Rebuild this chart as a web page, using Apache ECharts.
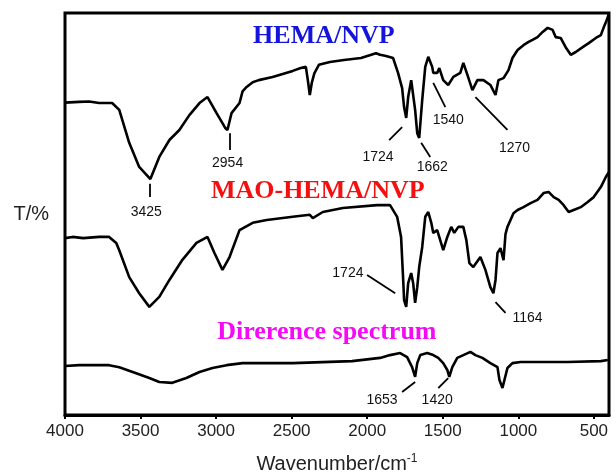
<!DOCTYPE html>
<html><head><meta charset="utf-8">
<script src="https://cdn.jsdelivr.net/npm/echarts@6/dist/echarts.min.js"></script>
<style>html,body{margin:0;padding:0;background:#fff}#c{width:616px;height:474px}</style>
</head><body><div id="c"></div>
<script>
// x: wavenumber (cm-1), y: relative transmittance (offset traces)
const hemaNvp = [[4000,77.7],[3907,77.9],[3841,78.0],[3774,77.6],[3688,77.6],[3641,75.9],[3575,67.7],[3509,61.7],[3435,58.7],[3376,64.2],[3309,68.4],[3243,70.9],[3177,74.6],[3110,77.6],[3057,79.1],[2997,75.1],[2958,72.6],[2940,71.4],[2925,70.9],[2898,75.1],[2845,77.6],[2825,80.5],[2798,81.6],[2758,82.8],[2718,83.3],[2626,84.1],[2493,85.6],[2440,86.3],[2406,86.6],[2393,83.3],[2380,79.6],[2367,82.6],[2350,85.0],[2320,87.1],[2247,87.8],[2154,88.3],[2041,88.8],[1942,90.0],[1915,89.6],[1875,89.3],[1829,88.8],[1796,85.1],[1769,81.3],[1756,76.6],[1742,73.9],[1729,79.1],[1709,83.3],[1696,83.6],[1683,75.9],[1669,70.1],[1656,68.9],[1636,78.4],[1616,86.6],[1596,89.1],[1570,86.6],[1563,85.1],[1537,85.1],[1523,86.3],[1497,83.3],[1464,82.1],[1430,84.1],[1384,85.1],[1364,87.6],[1337,84.6],[1304,80.8],[1271,83.3],[1231,83.3],[1185,82.1],[1151,79.6],[1132,83.3],[1098,83.8],[1065,85.8],[1039,88.8],[1005,90.8],[966,92.0],[932,92.8],[906,93.3],[873,94.0],[839,95.3],[806,96.3],[773,95.8],[753,94.0],[720,93.8],[687,91.5],[653,89.6],[620,90.3],[574,91.5],[534,92.5],[487,93.8],[454,94.5],[434,96.5],[414,98.3],[401,99.75]];
const maoHemaNvp = [[4000,44.0],[3950,44.3],[3880,44.0],[3774,44.3],[3708,44.3],[3661,42.8],[3641,41.0],[3575,34.3],[3509,30.3],[3442,26.9],[3376,29.4],[3309,33.6],[3223,38.6],[3130,42.8],[3057,44.3],[3011,40.3],[2958,36.1],[2911,39.3],[2845,46.0],[2758,47.8],[2665,48.5],[2493,49.3],[2380,49.8],[2360,49.0],[2294,50.5],[2161,51.5],[1935,52.2],[1849,52.2],[1802,49.3],[1776,44.3],[1762,33.6],[1756,28.6],[1742,26.9],[1729,32.8],[1709,35.3],[1696,32.8],[1683,27.9],[1669,31.8],[1656,36.8],[1636,41.8],[1616,49.3],[1596,50.5],[1576,47.8],[1563,45.3],[1537,46.0],[1517,43.5],[1497,41.0],[1470,44.3],[1444,46.8],[1424,45.3],[1397,46.8],[1364,46.8],[1344,43.5],[1324,37.8],[1298,36.8],[1251,39.3],[1218,36.1],[1185,31.8],[1165,30.3],[1151,33.6],[1138,40.3],[1118,41.5],[1098,38.5],[1085,45.0],[1072,46.8],[1032,50.2],[1005,51.0],[966,51.7],[919,52.7],[873,53.5],[833,55.2],[800,55.5],[766,54.2],[733,53.5],[700,52.2],[667,50.5],[634,51.0],[587,51.7],[541,53.0],[501,54.2],[454,56.7],[421,59.2],[401,60.4]];
const difference = [[4000,12.2],[3907,12.4],[3821,12.4],[3708,12.4],[3641,11.9],[3529,10.4],[3442,9.2],[3376,8.2],[3290,8.0],[3197,9.2],[3110,10.7],[3024,11.7],[2931,12.4],[2825,12.9],[2493,12.9],[2100,13.4],[1915,14.2],[1849,14.9],[1782,15.4],[1736,14.4],[1703,11.9],[1683,9.5],[1669,12.9],[1649,14.9],[1603,15.4],[1563,14.9],[1530,14.2],[1497,12.9],[1470,11.2],[1457,9.5],[1437,11.9],[1404,14.2],[1364,14.9],[1317,15.7],[1284,14.9],[1238,14.2],[1185,12.9],[1138,11.9],[1125,8.7],[1105,6.7],[1092,8.7],[1072,11.7],[1039,12.9],[985,13.2],[899,13.2],[673,13.2],[454,13.4],[408,13.7]];
const wavenumberTicks = [4000,3500,3000,2500,2000,1500,1000,500];
const peakLabels = ['3425','2954','1724','1662','1540','1270','1724','1164','1653','1420'];
const peakLabelAt = [[3462,50.5],[2924,62.7],[1929,64.2],[1570,61.7],[1464,73.4],[1025,66.4],[2128,35.3],[939,24.1],[1902,3.7],[1537,3.7]];
const leaderLines = [[[3442,57.5],[3442,54.2]],[[2911,70.1],[2911,65.9]],[[1769,71.6],[1855,68.4]],[[1643,67.7],[1583,64.2]],[[1563,82.6],[1483,76.6]],[[1284,79.1],[1072,70.9]],[[2001,34.8],[1815,30.3]],[[1151,28.1],[1085,25.4]],[[1683,8.2],[1769,5.7]],[[1464,9.2],[1530,6.7]]];
const traceTitles = ['HEMA/NVP','MAO-HEMA/NVP','Direrence spectrum'];
const traceTitleAt = [[2287,94.3],[2327,55.7],[2267,20.6]];
const traceTitleColors = ['#1414dc','#f51010','#f50af5'];

const chart = echarts.init(document.getElementById('c'), null, {renderer:'canvas'});
const lineStyle = {color:'#000', width:2.6, opacity:1};
const mkLine = (name, data) => ({name, type:'line', data, showSymbol:false, symbol:'none', lineStyle, animation:false, z:3});
const sans = 'Liberation Sans, Arial, sans-serif';
chart.setOption({
  animation:false,
  backgroundColor:'#fff',
  grid:{show:true, left:65, right:7, top:13, bottom:59, containLabel:false, outerBoundsMode:'none', borderColor:'#000', borderWidth:3},
  xAxis:{type:'value', inverse:true, min:400, max:4000,
    axisLine:{show:true, onZero:false, lineStyle:{color:'#000', width:3}},
    axisTick:{show:true, customValues:wavenumberTicks, length:4, lineStyle:{color:'#000', width:2}},
    axisLabel:{customValues:wavenumberTicks, formatter:v=>String(v), fontSize:17, color:'#222', margin:8, fontFamily:sans},
    splitLine:{show:false},
    name:'Wavenumber/cm{sup|-1}', nameLocation:'middle', nameGap:38,
    nameTextStyle:{fontSize:20, color:'#222', fontFamily:sans,
      rich:{sup:{fontSize:12, color:'#222', fontFamily:sans, padding:[0,0,10,0]}}}
  },
  yAxis:{type:'value', min:0, max:100, axisLine:{show:false}, axisTick:{show:false}, axisLabel:{show:false}, splitLine:{show:false},
    name:'T/%', nameLocation:'middle', nameRotate:0, nameGap:16,
    nameTextStyle:{fontSize:20, color:'#222', align:'right', fontFamily:sans}},
  series:[
    mkLine('HEMA/NVP', hemaNvp),
    mkLine('MAO-HEMA/NVP', maoHemaNvp),
    mkLine('Difference spectrum', difference),
    {type:'lines', coordinateSystem:'cartesian2d', data:leaderLines.map(c=>({coords:c})),
      lineStyle:{color:'#000', width:1.8, opacity:1}, symbol:'none', animation:false, z:4},
    {type:'scatter', symbolSize:0, itemStyle:{opacity:1}, data:peakLabels.map((t,i)=>({name:t, value:peakLabelAt[i]})),
      label:{show:true, position:'inside', formatter:'{b}', fontSize:14, color:'#111', opacity:1, fontFamily:sans},
      emphasis:{disabled:true}, animation:false, z:5},
    {type:'scatter', symbolSize:0, itemStyle:{opacity:1}, data:traceTitles.map((t,i)=>({name:t, value:traceTitleAt[i],
        label:{color:traceTitleColors[i]}})),
      label:{show:true, position:'inside', formatter:'{b}', opacity:1, fontSize:26, fontWeight:'bold', fontFamily:'Liberation Serif, Times New Roman, serif'},
      emphasis:{disabled:true}, animation:false, z:5}
  ]
});
</script></body></html>
